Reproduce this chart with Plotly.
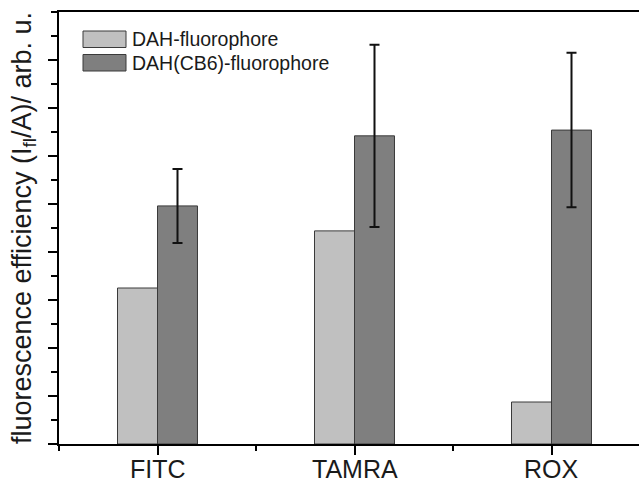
import plotly.graph_objects as go

# Fluorescence efficiency per fluorophore, with and without CB6
categories = ["FITC", "TAMRA", "ROX"]
dah_fluorophore = [3.25, 4.44, 0.875]
dah_cb6_fluorophore = [4.96, 6.42, 6.54]
dah_cb6_error = [0.77, 1.90, 1.61]
series_names = ["DAH-fluorophore", "DAH(CB6)-fluorophore"]

LIGHT = "#c0c0c0"
DARK = "#7f7f7f"
EDGE = "#3a3a3a"
TEXT = "#1a1a1a"
FONT = "Liberation Sans, Arial, sans-serif"

W, H = 639, 482
ML, MR, MT, MB = 59, 0, 12, 38
PW, PH = W - ML - MR, H - MT - MB

x_pos = list(range(len(categories)))

fig = go.Figure()
fig.add_trace(go.Bar(
    x=x_pos, y=dah_fluorophore, name=series_names[0],
    width=0.203, offset=-0.203,
    marker=dict(color=LIGHT, line=dict(color=EDGE, width=1)),
    showlegend=False,
))
fig.add_trace(go.Bar(
    x=x_pos, y=dah_cb6_fluorophore, name=series_names[1],
    width=0.203, offset=0.0,
    marker=dict(color=DARK, line=dict(color=EDGE, width=1)),
    error_y=dict(type="data", array=dah_cb6_error, visible=True,
                 color="#111111", thickness=2, width=5),
    showlegend=False,
))

# helpers: pixel position -> paper coordinates
def px_x(px):
    return (px - ML) / PW

def px_y(py):
    return (H - MB - py) / PH

# legend drawn as boxes with labels
legend_rows = [(series_names[0], LIGHT, 31, 47.5), (series_names[1], DARK, 54.5, 71)]
for name, color, top, bottom in legend_rows:
    fig.add_shape(type="rect", xref="paper", yref="paper",
                  x0=px_x(83), x1=px_x(126), y0=px_y(bottom), y1=px_y(top),
                  fillcolor=color, line=dict(color=EDGE, width=1))
    fig.add_annotation(xref="paper", yref="paper", x=px_x(130), y=px_y((top + bottom) / 2),
                       text=name, showarrow=False, xanchor="left", yanchor="middle",
                       font=dict(family=FONT, size=19.5, color=TEXT))

# category labels under the axis
for xv, label in zip(x_pos, categories):
    fig.add_annotation(xref="x", yref="paper", x=xv, y=px_y(469),
                       text=label, showarrow=False, xanchor="center", yanchor="middle",
                       borderpad=0,
                       font=dict(family=FONT, size=25, color=TEXT))

fig.update_layout(
    width=W, height=H,
    margin=dict(l=ML, r=MR, t=MT, b=MB),
    paper_bgcolor="white", plot_bgcolor="white",
    barmode="overlay",
    font=dict(family=FONT, color=TEXT),
)
fig.update_xaxes(
    range=[-0.5, -0.5 + PW / 197.0],
    tickmode="array", tickvals=x_pos, showticklabels=False,
    ticks="outside", ticklen=9, tickwidth=1.5, tickcolor="black",
    minor=dict(tickmode="linear", tick0=0.5, dtick=1, ticks="outside",
               ticklen=5, tickwidth=1.5, tickcolor="black"),
    showline=True, linecolor="black", linewidth=2, mirror=True,
    showgrid=False, zeroline=False, automargin=False,
)
fig.update_yaxes(
    range=[0, 9],
    tickmode="array", tickvals=list(range(9)), showticklabels=False,
    ticks="outside", ticklen=9, tickwidth=1.5, tickcolor="black",
    minor=dict(tickmode="linear", tick0=0, dtick=0.5, ticks="outside",
               ticklen=6, tickwidth=1.5, tickcolor="black"),
    showline=True, linecolor="black", linewidth=2,
    showgrid=False, zeroline=False, automargin=False,
    title=dict(text="fluorescence efficiency (I<sub>fl</sub>/A)/ arb. u.",
               font=dict(family=FONT, size=27, color=TEXT), standoff=9),
)

fig.write_html("out.html")
